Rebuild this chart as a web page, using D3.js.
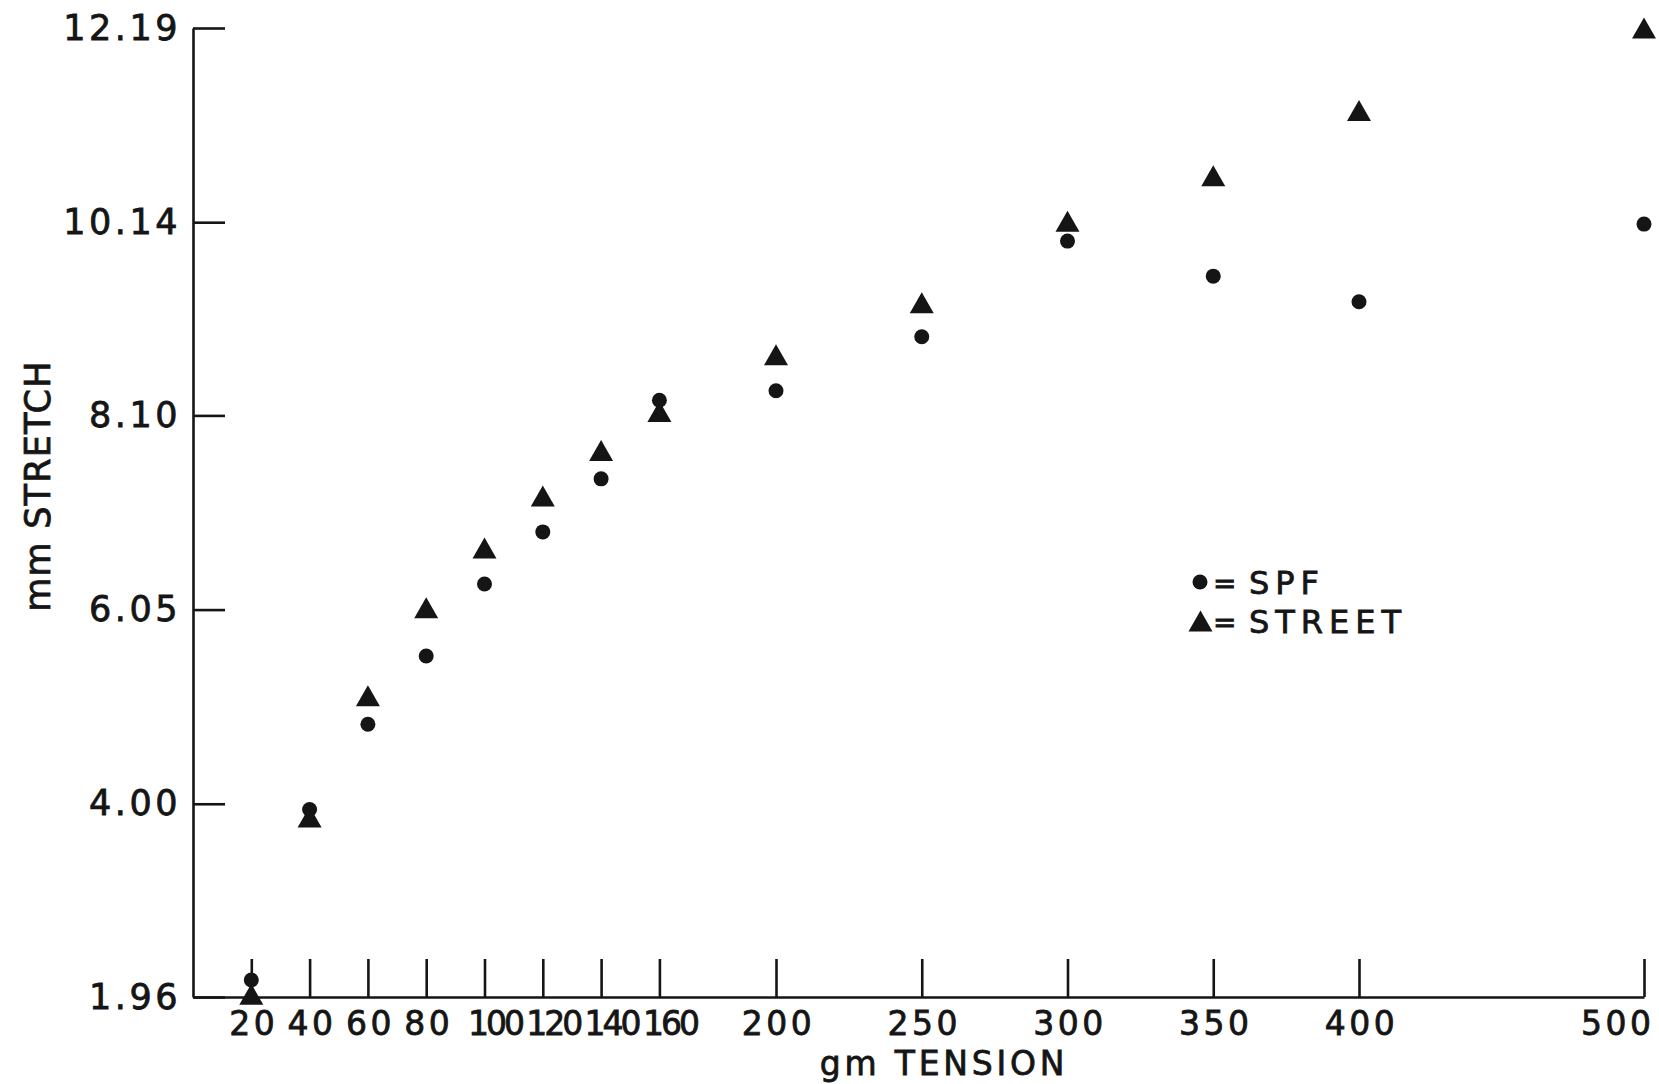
<!DOCTYPE html>
<html>
<head>
<meta charset="utf-8">
<script src="https://cdn.jsdelivr.net/npm/d3@7"></script>
<style>
    body { margin: 0; background: #fff; }
    svg { display: block; }
</style>
</head>
<body>
<script>
// gm tension (x) and mm stretch (y) for the two materials
const tensionValues = [20, 40, 60, 80, 100, 120, 140, 160, 200, 250, 300, 350, 400, 500];
const spfStretch = [2.14, 3.94, 4.84, 5.56, 6.32, 6.87, 7.43, 8.26, 8.36, 8.93, 9.94, 9.57, 9.30, 10.12];
const streetStretch = [1.99, 3.86, 5.14, 6.07, 6.70, 7.25, 7.73, 8.14, 8.74, 9.29, 10.15, 10.63, 11.32, 12.19];
const yTickValues = [1.96, 4.00, 6.05, 8.10, 10.14, 12.19];
const xTickValues = [20, 40, 60, 80, 100, 120, 140, 160, 200, 250, 300, 350, 400, 500];
const seriesNames = ["SPF", "STREET"];

const W = 1659, H = 1084;
const ink = "#151515";
const font = "'DejaVu Sans', 'Liberation Sans', sans-serif";

const svg = d3.select("body").append("svg")
    .attr("width", W)
    .attr("height", H);

svg.append("rect").attr("width", W).attr("height", H).attr("fill", "#fff");

// hand drawn axis is not quite even, so a polylinear scale
const x = d3.scaleLinear().domain([0, 400, 500]).range([193, 1359, 1644]);
const y = d3.scaleLinear().domain([1.96, 12.19]).range([997, 28]);

// lettering-template look: slightly heavier than the regular face
function inkText(sel, size, spacing) {
    sel.attr("fill", ink)
        .attr("stroke", ink)
        .attr("stroke-width", 0.8)
        .attr("font-size", size)
        .attr("font-family", font)
        .attr("letter-spacing", spacing);
}

// x axis, ticks pointing up into the plot
const gx = svg.append("g")
    .attr("transform", `translate(0,${y(1.96)})`)
    .call(d3.axisBottom(x)
        .tickValues(xTickValues)
        .tickSize(-38)
        .tickSizeOuter(0)
        .tickFormat(d3.format("d")));

gx.selectAll("path, line").attr("stroke", ink).attr("stroke-width", 2.6);
gx.selectAll("text")
    .attr("y", 38)
    .attr("dy", null)
    .call(inkText, 33, 3.5)
    .attr("letter-spacing", d => String(d)[0] === "1" ? -3 : 3.5)
    .attr("dx", d => String(d)[0] === "1" ? 10 : 2)
    .each(function (d) {
        if (d === 500) d3.select(this).attr("text-anchor", "end").attr("dx", 10);
    });

// y axis, ticks pointing right
const gy = svg.append("g")
    .attr("transform", `translate(${x(0)},0)`)
    .call(d3.axisLeft(y)
        .tickValues(yTickValues)
        .tickSize(-32)
        .tickSizeOuter(0)
        .tickPadding(12)
        .tickFormat(d3.format(".2f")));

gy.selectAll("path, line").attr("stroke", ink).attr("stroke-width", 2.6);
gy.selectAll("text").call(inkText, 35, 3.5);

// axis titles
svg.append("text")
    .attr("x", 944)
    .attr("y", 1075)
    .attr("text-anchor", "middle")
    .call(inkText, 33, 3.8)
    .text("gm TENSION");

svg.append("text")
    .attr("transform", "translate(50,486) rotate(-90)")
    .attr("text-anchor", "middle")
    .call(inkText, 35, 1.2)
    .text("mm STRETCH");

// markers
const triW = 24, triH = 21;
const triPath = d3.line()([[0, -triH / 2], [triW / 2, triH / 2], [-triW / 2, triH / 2]]) + "Z";

svg.append("g").selectAll("path")
    .data(tensionValues.map((t, i) => [t, streetStretch[i]]))
    .join("path")
    .attr("d", triPath)
    .attr("transform", d => `translate(${x(d[0])},${y(d[1])})`)
    .attr("fill", ink);

svg.append("g").selectAll("circle")
    .data(tensionValues.map((t, i) => [t, spfStretch[i]]))
    .join("circle")
    .attr("cx", d => x(d[0]))
    .attr("cy", d => y(d[1]))
    .attr("r", 7.5)
    .attr("fill", ink);

// legend
const legend = svg.append("g");
legend.append("circle").attr("cx", 1200).attr("cy", 582).attr("r", 7.5).attr("fill", ink);
legend.append("path").attr("d", triPath).attr("transform", "translate(1200.5,621)").attr("fill", ink);

seriesNames.forEach((name, i) => {
    const by = 594 + i * 39;
    legend.append("text")
        .attr("x", 1213).attr("y", by - 1)
        .call(inkText, 28, 0)
        .text("=");
    legend.append("text")
        .attr("x", 1249).attr("y", by)
        .call(inkText, 32, 6)
        .text(name);
});
</script>
</body>
</html>
